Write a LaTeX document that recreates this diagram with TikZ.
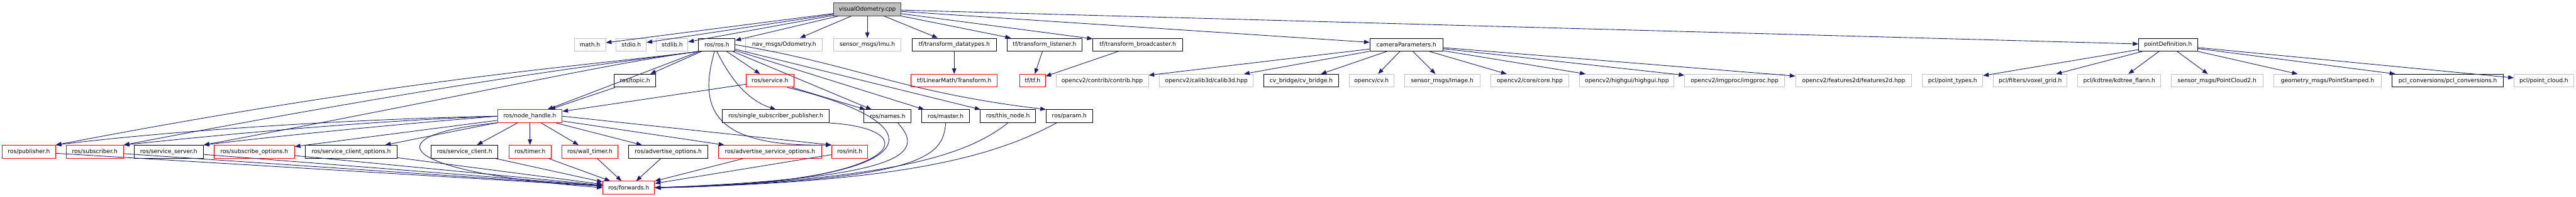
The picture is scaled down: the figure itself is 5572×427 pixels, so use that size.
\documentclass[tikz,border=0pt]{standalone}
\usepackage{fontspec}
\setmainfont{DejaVu Sans}
\usetikzlibrary{arrows.meta}
\definecolor{edgec}{HTML}{191970}
\definecolor{lgr}{HTML}{BFBFBF}
\definecolor{dgr}{HTML}{404040}
\tikzset{
 box/.style={draw, line width=1.3pt, inner sep=0pt, font=\fontsize{12.4}{14}\selectfont, text=black},
 rootbox/.style={box, fill=lgr, draw=dgr},
 extbox/.style={box, draw=lgr},
 blkbox/.style={box, draw=black},
 redbox/.style={box, draw=red},
 dep/.style={draw=edgec, line width=1.2pt, -{Triangle[length=12pt,width=9pt]}}
}
\newcommand\nd[7]{\node[#1, minimum width={(#4-#3)*1pt}, minimum height={(#6-#5)*1pt}] (#2) at ({(#3+#4)/2},{(#5+#6)/2}) {#7};}
\begin{document}
\begin{tikzpicture}[x=1pt,y=-1pt]
\useasboundingbox (0,0) rectangle (5572,427);
% row 0
\nd{rootbox}{root}{1803}{1949}{6}{34}{visualOdometry.cpp}
% row 1
\nd{extbox}{math}{1242}{1310}{83}{111}{math.h}
\nd{extbox}{stdio}{1333}{1398}{83}{111}{stdio.h}
\nd{extbox}{stdlib}{1420}{1488}{83}{111}{stdlib.h}
\nd{blkbox}{ros}{1511}{1590}{83}{111}{ros/ros.h}
\nd{extbox}{odom}{1613}{1779}{83}{111}{nav\_msgs/Odometry.h}
\nd{extbox}{imu}{1803}{1949}{83}{111}{sensor\_msgs/Imu.h}
\nd{blkbox}{tfdt}{1973}{2155}{83}{111}{tf/transform\_datatypes.h}
\nd{blkbox}{tfl}{2178}{2341}{83}{111}{tf/transform\_listener.h}
\nd{blkbox}{tfb}{2364}{2558}{83}{111}{tf/transform\_broadcaster.h}
\nd{blkbox}{cam}{2963}{3121}{83}{111}{cameraParameters.h}
\nd{blkbox}{pdef}{4626}{4753}{83}{111}{pointDefinition.h}
% row 2
\nd{blkbox}{topic}{1329}{1418}{161}{189}{ros/topic.h}
\nd{redbox}{service}{1614}{1717}{161}{189}{ros/service.h}
\nd{redbox}{lmt}{1971}{2157}{161}{189}{tf/LinearMath/Transform.h}
\nd{redbox}{tf}{2206}{2261}{161}{189}{tf/tf.h}
\nd{extbox}{contrib}{2284}{2484}{161}{189}{opencv2/contrib/contrib.hpp}
\nd{extbox}{calib}{2508}{2711}{161}{189}{opencv2/calib3d/calib3d.hpp}
\nd{blkbox}{cvb}{2734}{2895}{161}{189}{cv\_bridge/cv\_bridge.h}
\nd{extbox}{cv}{2918}{3015}{161}{189}{opencv/cv.h}
\nd{extbox}{img}{3038}{3201}{161}{189}{sensor\_msgs/Image.h}
\nd{extbox}{core}{3225}{3393}{161}{189}{opencv2/core/core.hpp}
\nd{extbox}{hg}{3417}{3621}{161}{189}{opencv2/highgui/highgui.hpp}
\nd{extbox}{ip}{3644}{3860}{161}{189}{opencv2/imgproc/imgproc.hpp}
\nd{extbox}{ftd}{3884}{4135}{161}{189}{opencv2/features2d/features2d.hpp}
\nd{extbox}{pt}{4158}{4289}{161}{189}{pcl/point\_types.h}
\nd{extbox}{vg}{4312}{4471}{161}{189}{pcl/filters/voxel\_grid.h}
\nd{extbox}{kd}{4494}{4674}{161}{189}{pcl/kdtree/kdtree\_flann.h}
\nd{extbox}{pctwo}{4696}{4895}{161}{189}{sensor\_msgs/PointCloud2.h}
\nd{extbox}{ps}{4918}{5151}{161}{189}{geometry\_msgs/PointStamped.h}
\nd{blkbox}{pclc}{5174}{5415}{161}{189}{pcl\_conversions/pcl\_conversions.h}
\nd{extbox}{pcl}{5438}{5567}{161}{189}{pcl/point\_cloud.h}
% row 3
\nd{redbox}{nh}{1076}{1216}{238}{266}{ros/node\_handle.h}
\nd{blkbox}{ssp}{1562}{1794}{238}{266}{ros/single\_subscriber\_publisher.h}
\nd{blkbox}{names}{1869}{1971}{238}{266}{ros/names.h}
\nd{blkbox}{master}{1994}{2097}{238}{266}{ros/master.h}
\nd{blkbox}{thisn}{2120}{2240}{238}{266}{ros/this\_node.h}
\nd{blkbox}{param}{2263}{2363}{238}{266}{ros/param.h}
% row 4
\nd{redbox}{pub}{5}{120}{315}{343}{ros/publisher.h}
\nd{redbox}{sub}{143}{267}{315}{343}{ros/subscriber.h}
\nd{blkbox}{ss}{290}{440}{315}{343}{ros/service\_server.h}
\nd{redbox}{so}{463}{637}{315}{343}{ros/subscribe\_options.h}
\nd{blkbox}{sco}{660}{859}{315}{343}{ros/service\_client\_options.h}
\nd{blkbox}{sc}{933}{1077}{315}{343}{ros/service\_client.h}
\nd{redbox}{timer}{1101}{1192}{315}{343}{ros/timer.h}
\nd{redbox}{wt}{1215}{1337}{315}{343}{ros/wall\_timer.h}
\nd{blkbox}{ao}{1360}{1531}{315}{343}{ros/advertise\_options.h}
\nd{redbox}{aso}{1554}{1777}{315}{343}{ros/advertise\_service\_options.h}
\nd{redbox}{init}{1799}{1877}{315}{343}{ros/init.h}
% row 5
\nd{redbox}{fwd}{1304}{1416}{393}{421}{ros/forwards.h}

% root edges
\foreach \t in {math,stdio,stdlib,ros,odom,imu,tfdt,tfl,tfb,cam,pdef}
  \draw[dep] (root) -- (\t);
% ros.h edges
\draw[dep] (ros) -- (topic);
\draw[dep] (ros) -- (nh);
\draw[dep] (ros.south west) .. controls (1300,140) and (900,165) .. (pub.north east);
\draw[dep] (ros.south west) .. controls (1300,140) and (1000,175) .. (sub.north east);
\draw[dep] (ros.south west) .. controls (1300,140) and (1050,200) .. (ss.north east);
\draw[dep] (ros) -- (service);
\draw[dep] (ros.south) .. controls (1575,160) and (1610,215) .. (ssp.north);
\draw[dep] ([xshift=-5pt]ros.south) .. controls (1505,250) and (1560,318) .. (init.north west);
\draw[dep] (ros) -- (names);
\draw[dep] (ros) -- (master);
\draw[dep] (ros) -- (thisn);
\draw[dep] (ros.east) .. controls (1850,140) and (1950,200) .. (param.north west);
% topic / service
\draw[dep] (topic) -- (nh);
\draw[dep] (service) -- (nh);
\draw[dep] (service) -- (names);
\draw[dep] ([xshift=-15pt]service.south east) .. controls (2040,270) and (2020,395) .. (fwd.east);
% node_handle edges
\draw[dep] (nh) -- (sc);
\draw[dep] (nh) -- (timer);
\draw[dep] (nh) -- (wt);
\draw[dep] (nh) -- (ao);
\draw[dep] (nh) -- (aso);
\draw[dep] (nh.east) -- (init.north west);
\draw[dep] (nh.west) .. controls (800,257) and (400,280) .. (pub.north east);
\draw[dep] (nh.west) .. controls (800,262) and (500,290) .. (sub.north east);
\draw[dep] (nh.west) .. controls (850,270) and (600,295) .. (ss.north east);
\draw[dep] (nh) -- (so);
\draw[dep] (nh) -- (sco);
\draw[dep] (nh.south west) .. controls (820,290) and (830,370) .. (fwd.west);
% into forwards
\foreach \s in {pub,sub,ss,so,sco,sc,timer,wt,ao,aso,init}
  \draw[dep] (\s) -- (fwd);
\draw[dep] (ssp.south east) .. controls (2010,280) and (1960,400) .. (fwd.east);
\draw[dep] ([xshift=22pt]names.south) .. controls (2000,330) and (1970,385) .. (fwd.east);
\draw[dep] (master.south) .. controls (2040,340) and (2000,390) .. (fwd.east);
\draw[dep] (thisn.south) .. controls (2100,330) and (1950,390) .. (fwd.east);
\draw[dep] ([xshift=-28pt]param.south) .. controls (2150,340) and (1950,395) .. (fwd.east);
% tf
\draw[dep] (tfdt) -- (lmt);
\draw[dep] (tfl) -- (tf);
\draw[dep] (tfb) -- (tf);
% cameraParameters
\foreach \t in {contrib,calib,cvb,cv,img,core,hg,ip,ftd}
  \draw[dep] (cam) -- (\t);
% pointDefinition
\foreach \t in {pt,vg,kd,pctwo,ps,pclc,pcl}
  \draw[dep] (pdef) -- (\t);
\end{tikzpicture}
\end{document}
